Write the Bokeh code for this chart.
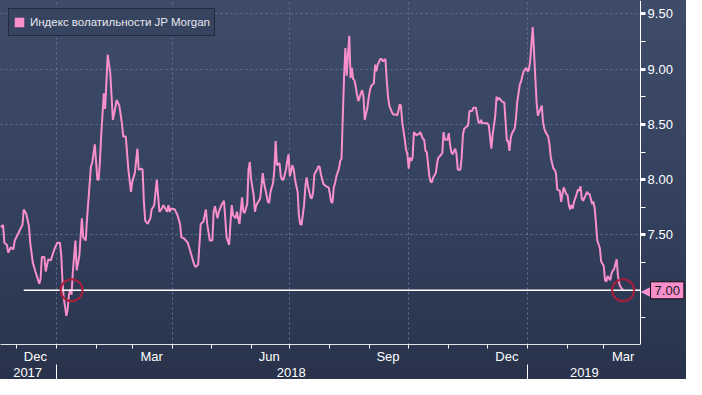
from datetime import datetime
import pandas as pd
from bokeh.plotting import figure
from bokeh.models import (Range1d, LinearAxis, FixedTicker, DatetimeTickFormatter, Grid,
                          NumeralTickFormatter, Legend, LegendItem, Label, ColumnDataSource)
from bokeh.embed import file_html
from bokeh.resources import INLINE

# ---------------- data ----------------
dates = [
    "2017-11-19", "2017-11-21", "2017-11-22", "2017-11-24", "2017-11-25", "2017-11-27", "2017-11-29", "2017-11-30",
    "2017-12-03", "2017-12-05", "2017-12-06", "2017-12-07", "2017-12-09", "2017-12-11", "2017-12-12", "2017-12-14",
    "2017-12-16", "2017-12-19", "2017-12-20", "2017-12-21", "2017-12-23", "2017-12-24", "2017-12-26", "2017-12-28",
    "2017-12-29", "2017-12-31", "2018-01-02", "2018-01-04", "2018-01-05", "2018-01-06", "2018-01-07", "2018-01-09",
    "2018-01-10", "2018-01-11", "2018-01-12", "2018-01-13", "2018-01-14", "2018-01-16", "2018-01-17", "2018-01-19",
    "2018-01-21", "2018-01-22", "2018-01-24", "2018-01-25", "2018-01-28", "2018-01-29", "2018-01-31", "2018-02-02",
    "2018-02-03", "2018-02-04", "2018-02-05", "2018-02-07", "2018-02-08", "2018-02-10", "2018-02-12", "2018-02-14",
    "2018-02-17", "2018-02-19", "2018-02-21", "2018-02-22", "2018-02-24", "2018-02-26", "2018-02-28", "2018-03-01",
    "2018-03-03", "2018-03-05", "2018-03-06", "2018-03-08", "2018-03-09", "2018-03-10", "2018-03-11", "2018-03-13",
    "2018-03-15", "2018-03-16", "2018-03-18", "2018-03-20", "2018-03-22", "2018-03-24", "2018-03-25", "2018-03-26",
    "2018-03-28", "2018-03-29", "2018-03-30", "2018-03-31", "2018-04-03", "2018-04-05", "2018-04-07", "2018-04-08",
    "2018-04-10", "2018-04-13", "2018-04-16", "2018-04-18", "2018-04-19", "2018-04-21", "2018-04-23", "2018-04-25",
    "2018-04-27", "2018-04-28", "2018-04-30", "2018-05-02", "2018-05-03", "2018-05-04", "2018-05-06", "2018-05-07",
    "2018-05-09", "2018-05-11", "2018-05-12", "2018-05-13", "2018-05-15", "2018-05-16", "2018-05-17", "2018-05-18",
    "2018-05-20", "2018-05-21", "2018-05-22", "2018-05-23", "2018-05-25", "2018-05-26", "2018-05-27", "2018-05-29",
    "2018-05-30", "2018-05-31", "2018-06-01", "2018-06-03", "2018-06-04", "2018-06-05", "2018-06-08", "2018-06-09",
    "2018-06-10", "2018-06-11", "2018-06-13", "2018-06-14", "2018-06-15", "2018-06-16", "2018-06-18", "2018-06-19",
    "2018-06-20", "2018-06-21", "2018-06-23", "2018-06-24", "2018-06-25", "2018-06-26", "2018-06-28", "2018-06-29",
    "2018-06-30", "2018-07-01", "2018-07-03", "2018-07-04", "2018-07-05", "2018-07-07", "2018-07-08", "2018-07-09",
    "2018-07-10", "2018-07-12", "2018-07-13", "2018-07-14", "2018-07-15", "2018-07-17", "2018-07-18", "2018-07-19",
    "2018-07-20", "2018-07-22", "2018-07-23", "2018-07-24", "2018-07-25", "2018-07-27", "2018-07-29", "2018-07-31",
    "2018-08-01", "2018-08-02", "2018-08-03", "2018-08-04", "2018-08-05", "2018-08-06", "2018-08-08", "2018-08-09",
    "2018-08-10", "2018-08-11", "2018-08-12", "2018-08-13", "2018-08-14", "2018-08-15", "2018-08-16", "2018-08-17",
    "2018-08-18", "2018-08-19", "2018-08-20", "2018-08-21", "2018-08-22", "2018-08-23", "2018-08-25", "2018-08-26",
    "2018-08-27", "2018-08-28", "2018-08-30", "2018-08-31", "2018-09-01", "2018-09-02", "2018-09-04", "2018-09-05",
    "2018-09-06", "2018-09-07", "2018-09-09", "2018-09-10", "2018-09-11", "2018-09-13", "2018-09-14", "2018-09-15",
    "2018-09-16", "2018-09-18", "2018-09-19", "2018-09-21", "2018-09-22", "2018-09-23", "2018-09-24", "2018-09-25",
    "2018-09-26", "2018-09-28", "2018-09-29", "2018-09-30", "2018-10-01", "2018-10-02", "2018-10-03", "2018-10-04",
    "2018-10-05", "2018-10-07", "2018-10-08", "2018-10-09", "2018-10-10", "2018-10-12", "2018-10-13", "2018-10-14",
    "2018-10-15", "2018-10-17", "2018-10-18", "2018-10-19", "2018-10-20", "2018-10-22", "2018-10-23", "2018-10-24",
    "2018-10-25", "2018-10-27", "2018-10-28", "2018-10-29", "2018-10-31", "2018-11-01", "2018-11-02", "2018-11-03",
    "2018-11-04", "2018-11-06", "2018-11-07", "2018-11-08", "2018-11-10", "2018-11-11", "2018-11-12", "2018-11-13",
    "2018-11-15", "2018-11-16", "2018-11-17", "2018-11-19", "2018-11-20", "2018-11-21", "2018-11-22", "2018-11-24",
    "2018-11-25", "2018-11-26", "2018-11-27", "2018-11-29", "2018-11-30", "2018-12-01", "2018-12-02", "2018-12-04",
    "2018-12-05", "2018-12-06", "2018-12-07", "2018-12-08", "2018-12-09", "2018-12-10", "2018-12-12", "2018-12-13",
    "2018-12-14", "2018-12-16", "2018-12-17", "2018-12-18", "2018-12-19", "2018-12-20", "2018-12-22", "2018-12-23",
    "2018-12-24", "2018-12-26", "2018-12-27", "2018-12-28", "2018-12-29", "2018-12-31", "2019-01-01", "2019-01-02",
    "2019-01-03", "2019-01-04", "2019-01-05", "2019-01-06", "2019-01-07", "2019-01-08", "2019-01-09", "2019-01-10",
    "2019-01-12", "2019-01-13", "2019-01-14", "2019-01-15", "2019-01-17", "2019-01-18", "2019-01-19", "2019-01-21",
    "2019-01-22", "2019-01-23", "2019-01-24", "2019-01-26", "2019-01-27", "2019-01-28", "2019-01-29", "2019-01-31",
    "2019-02-01", "2019-02-02", "2019-02-03", "2019-02-04", "2019-02-05", "2019-02-06", "2019-02-08", "2019-02-09",
    "2019-02-10", "2019-02-11", "2019-02-12", "2019-02-13", "2019-02-15", "2019-02-16", "2019-02-17", "2019-02-18",
    "2019-02-20", "2019-02-21", "2019-02-22", "2019-02-23", "2019-02-24", "2019-02-26", "2019-02-27", "2019-03-01",
    "2019-03-02", "2019-03-03", "2019-03-04", "2019-03-06", "2019-03-07", "2019-03-08", "2019-03-09", "2019-03-11",
    "2019-03-12", "2019-03-13", "2019-03-14", "2019-03-16",
]
values = [
    7.57, 7.59, 7.43, 7.41, 7.34, 7.39, 7.37, 7.45,
    7.52, 7.57, 7.59, 7.73, 7.69, 7.58, 7.43, 7.25,
    7.17, 7.06, 7.10, 7.30, 7.30, 7.17, 7.28, 7.27,
    7.31, 7.38, 7.43, 7.43, 7.32, 7.08, 6.93, 6.77,
    6.83, 6.96, 7.01, 6.96, 7.17, 7.45, 7.18, 7.31,
    7.65, 7.48, 7.45, 7.65, 8.12, 8.15, 8.32, 8.00,
    8.00, 8.17, 8.41, 8.78, 8.64, 9.13, 8.96, 8.54,
    8.72, 8.67, 8.51, 8.39, 8.39, 8.09, 7.89, 7.98,
    8.06, 8.28, 8.09, 8.10, 8.09, 7.80, 7.63, 7.60,
    7.65, 7.73, 7.77, 8.00, 7.71, 7.74, 7.77, 7.75,
    7.71, 7.77, 7.71, 7.74, 7.73, 7.68, 7.60, 7.48,
    7.47, 7.43, 7.31, 7.23, 7.21, 7.23, 7.60, 7.62,
    7.73, 7.60, 7.45, 7.45, 7.71, 7.76, 7.65, 7.71,
    7.77, 7.81, 7.65, 7.48, 7.41, 7.60, 7.77, 7.68,
    7.65, 7.71, 7.65, 7.60, 7.84, 7.71, 7.70, 7.78,
    8.09, 8.16, 8.00, 7.86, 7.71, 7.77, 7.83, 7.94,
    8.06, 7.97, 7.86, 7.80, 7.79, 7.89, 7.97, 8.09,
    8.35, 8.13, 8.15, 8.03, 8.00, 8.00, 8.09, 8.17,
    8.23, 8.03, 8.13, 8.09, 8.00, 7.89, 7.68, 7.60,
    7.59, 7.77, 7.94, 8.02, 7.94, 7.84, 7.83, 7.89,
    8.05, 8.09, 8.12, 8.12, 8.05, 7.96, 7.94, 7.93,
    7.87, 7.80, 7.79, 7.93, 7.97, 8.03, 8.10, 8.17,
    8.19, 8.58, 8.94, 9.19, 8.94, 9.13, 9.30, 8.92,
    9.01, 8.91, 8.90, 8.84, 8.77, 8.71, 8.78, 8.81,
    8.75, 8.54, 8.65, 8.74, 8.81, 8.85, 8.87, 9.04,
    8.98, 9.04, 9.09, 9.09, 9.07, 9.09, 8.90, 8.75,
    8.67, 8.61, 8.59, 8.59, 8.58, 8.62, 8.68, 8.67,
    8.52, 8.36, 8.27, 8.23, 8.10, 8.20, 8.17, 8.20,
    8.43, 8.40, 8.41, 8.41, 8.43, 8.37, 8.36, 8.26,
    8.25, 8.03, 7.98, 7.98, 8.02, 8.06, 8.15, 8.20,
    8.21, 8.24, 8.43, 8.36, 8.36, 8.42, 8.32, 8.25,
    8.23, 8.28, 8.23, 8.09, 8.09, 8.20, 8.41, 8.46,
    8.48, 8.49, 8.62, 8.62, 8.65, 8.65, 8.65, 8.52,
    8.51, 8.54, 8.51, 8.51, 8.51, 8.51, 8.49, 8.28,
    8.41, 8.49, 8.58, 8.75, 8.72, 8.74, 8.71, 8.70,
    8.70, 8.35, 8.35, 8.26, 8.38, 8.42, 8.46, 8.55,
    8.70, 8.86, 8.89, 8.94, 8.98, 9.01, 8.98, 8.99,
    9.07, 9.22, 9.38, 9.16, 8.93, 8.70, 8.58, 8.61,
    8.67, 8.52, 8.46, 8.43, 8.39, 8.32, 8.20, 8.10,
    8.09, 8.06, 7.91, 7.90, 7.80, 7.87, 7.93, 7.87,
    7.86, 7.77, 7.73, 7.77, 7.74, 7.80, 7.87, 7.91,
    7.90, 7.94, 7.83, 7.81, 7.86, 7.89, 7.87, 7.87,
    7.78, 7.80, 7.74, 7.60, 7.45, 7.38, 7.26, 7.22,
    7.09, 7.08, 7.13, 7.09, 7.15, 7.18, 7.19, 7.28,
    7.13, 7.06, 7.03, 7.00,
]
series_name = "Индекс волатильности JP Morgan"

circle_dates = ["2018-01-13", "2019-03-16"]
circle_values = [7.00, 7.00]

ref_level = 7.00
ref_start = "2017-12-07"

x_start = "2017-11-19"
axis_date = "2019-03-29 12:00"      # where the right value axis sits
y_start, y_end = 6.51, 9.62

y_ticks = [7.5, 8.0, 8.5, 9.0, 9.5]
y_minor_ticks = [6.75, 7.25, 7.75, 8.25, 8.75, 9.25]
month_label_dates = ["2017-12-16", "2018-03-16", "2018-06-15", "2018-09-15", "2018-12-16", "2019-03-16"]
year_label_dates = ["2017-12-10", "2018-07-02", "2019-02-14"]
quarter_starts = ["2018-01-01", "2018-04-01", "2018-07-01", "2018-10-01", "2019-01-01"]
year_starts = ["2018-01-01", "2019-01-01"]
month_starts = ["2017-12-01", "2018-01-01", "2018-02-01", "2018-03-01", "2018-04-01", "2018-05-01",
                "2018-06-01", "2018-07-01", "2018-08-01", "2018-09-01", "2018-10-01", "2018-11-01",
                "2018-12-01", "2019-01-01", "2019-02-01", "2019-03-01"]


def ms(d):
    return pd.Timestamp(d).value / 1e6


# ---------------- style ----------------
PINK = "#f98fcb"
WHITE = "#ffffff"
GRID = "#5f7392"
FONT = "Liberation Sans"
AXIS_FRAC = 655 / 702     # share of the width left of the value axis

x0 = ms(x_start)
xa = ms(axis_date)
x1 = x0 + (xa - x0) / AXIS_FRAC

src = ColumnDataSource(dict(date=pd.to_datetime(dates), value=values))

p = figure(width=686, height=379, output_backend="svg", toolbar_location=None,
           x_range=Range1d(x0, x1), y_range=Range1d(y_start, y_end),
           x_axis_location=None, y_axis_location=None,
           min_border_left=0, min_border_top=0, min_border_right=0, min_border_bottom=0)
p.background_fill_alpha = 0
p.border_fill_alpha = 0
p.outline_line_color = None
p.styles = {"background": "linear-gradient(180deg, #3e4c6a 0%, #34415e 55%, #28324b 100%)"}

# grids
p.xgrid.ticker = FixedTicker(ticks=[ms(d) for d in quarter_starts])
p.ygrid.ticker = FixedTicker(ticks=y_ticks)
for g in (p.xgrid, p.ygrid):
    g.grid_line_color = GRID
    g.grid_line_dash = "2 3"
    g.grid_line_width = 1
if "cross_bounds" in Grid.properties():
    p.ygrid.cross_bounds = (x0, xa)

# value axis, fixed at axis_date inside the frame
yaxis = LinearAxis(ticker=FixedTicker(ticks=y_ticks, minor_ticks=y_minor_ticks),
                   formatter=NumeralTickFormatter(format="0.00"), fixed_location=xa)
yaxis.axis_line_color = WHITE
yaxis.major_tick_line_color = WHITE
yaxis.major_tick_line_width = 3
yaxis.major_tick_in = 0
yaxis.major_tick_out = 5
yaxis.minor_tick_line_color = WHITE
yaxis.minor_tick_in = 0
yaxis.minor_tick_out = 5
yaxis.major_label_text_color = WHITE
yaxis.major_label_text_font = FONT
yaxis.major_label_text_font_size = "13px"
yaxis.major_label_standoff = 2
p.add_layout(yaxis, "right")

# month axis
fmt_month = DatetimeTickFormatter(milliseconds="%b", seconds="%b", minsec="%b", minutes="%b",
                                  hourmin="%b", hours="%b", days="%b", months="%b", years="%b")
xaxis_m = LinearAxis(ticker=FixedTicker(ticks=[ms(d) for d in month_label_dates],
                                        minor_ticks=[ms(d) for d in month_starts]),
                     formatter=fmt_month, bounds=(x0, xa))
xaxis_m.axis_line_color = WHITE
xaxis_m.axis_line_alpha = 0.85
xaxis_m.major_tick_in = 0
xaxis_m.major_tick_out = 0
xaxis_m.minor_tick_in = 0
xaxis_m.minor_tick_out = 4
xaxis_m.minor_tick_line_color = WHITE
xaxis_m.major_label_text_color = WHITE
xaxis_m.major_label_text_font = FONT
xaxis_m.major_label_text_font_size = "13px"
xaxis_m.major_label_standoff = 0
p.add_layout(xaxis_m, "below")

# year axis
fmt_year = DatetimeTickFormatter(milliseconds="%Y", seconds="%Y", minsec="%Y", minutes="%Y",
                                 hourmin="%Y", hours="%Y", days="%Y", months="%Y", years="%Y")
xaxis_y = LinearAxis(ticker=FixedTicker(ticks=[ms(d) for d in year_label_dates],
                                        minor_ticks=[ms(d) for d in year_starts]),
                     formatter=fmt_year, bounds=(x0, xa))
xaxis_y.axis_line_color = None
xaxis_y.major_tick_in = 0
xaxis_y.major_tick_out = 0
xaxis_y.minor_tick_in = 2
xaxis_y.minor_tick_out = 17
xaxis_y.minor_tick_line_color = WHITE
xaxis_y.major_label_text_color = WHITE
xaxis_y.major_label_text_font = FONT
xaxis_y.major_label_text_font_size = "13px"
xaxis_y.major_label_standoff = -16
p.add_layout(xaxis_y, "below")

# series
line_r = p.line(x="date", y="value", source=src, line_color=PINK, line_width=2)

# square swatch for the legend (renderer kept hidden)
swatch = p.vbar(x="date", top="value", width=1, source=src, fill_color=PINK,
                line_color=None, visible=False)

# reference level
p.segment(x0=[ms(ref_start)], x1=[xa], y0=[ref_level], y1=[ref_level],
          line_color=WHITE, line_width=1.5)

# circles
p.scatter(x=pd.to_datetime(circle_dates), y=circle_values, marker="circle", size=22,
          fill_color=None, line_color="#a61f3b", line_width=2)

legend = Legend(items=[LegendItem(label=series_name, renderers=[swatch])], location="top_left")
legend.background_fill_color = "#37445f"
legend.background_fill_alpha = 1
legend.border_line_color = "#0d111b"
legend.border_line_width = 1
legend.label_text_color = "#e8e8f0"
legend.label_text_font = FONT
legend.label_text_font_size = "11.5px"
legend.glyph_width = 12
legend.glyph_height = 12
legend.label_height = 18
legend.label_standoff = 5
legend.padding = 4
legend.margin = 8
legend.spacing = 0
p.add_layout(legend)

# current value tag
last_value = values[-1]
p.add_layout(Label(x=xa, y=last_value, x_offset=0, text="◀", text_color=PINK,
                   text_font="DejaVu Sans", text_font_size="19px",
                   text_baseline="middle", text_align="left"))
p.add_layout(Label(x=xa, y=last_value, x_offset=10, text=f"{last_value:.2f}",
                   text_color="#1b1b1b", text_font=FONT, text_font_size="13px",
                   text_baseline="middle", text_align="left",
                   background_fill_color=PINK, border_line_color="#111111", padding=4))

open("out.html", "w").write(file_html(p, INLINE))
